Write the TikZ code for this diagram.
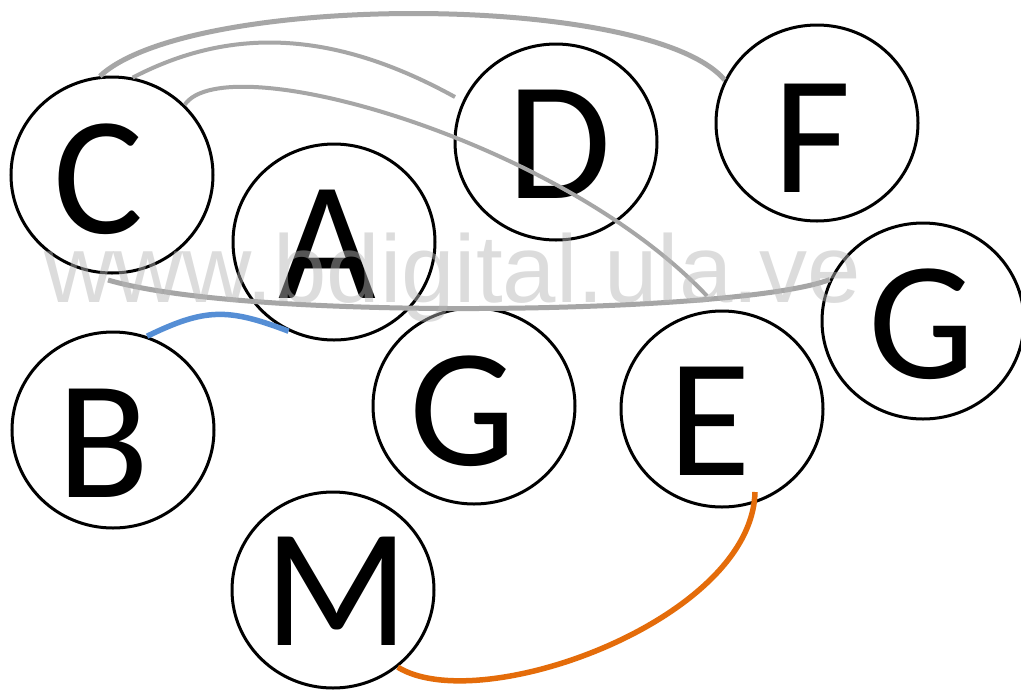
\documentclass[tikz,border=0pt]{standalone}
\usepackage{fontspec}
\setmainfont{Carlito}
\newfontfamily\wmfont{Liberation Sans}
\usetikzlibrary{shapes.geometric}
\definecolor{linegray}{HTML}{A6A6A6}
\definecolor{lineblue}{HTML}{558ED5}
\definecolor{lineorange}{HTML}{E46C0A}
\tikzset{
  circ/.style={ellipse, draw=black, line width=3pt, minimum width=202pt, minimum height=196pt, inner sep=0pt},
  letter/.style={font=\fontsize{169}{169}\selectfont, inner sep=0pt, anchor=base},
  gthick/.style={draw=linegray, line width=5pt},
  gthin/.style={draw=linegray, line width=4pt},
  bline/.style={draw=lineblue, line width=5.5pt},
  oline/.style={draw=lineorange, line width=5.5pt},
  wmark/.style={font=\wmfont\fontsize{96}{96}\selectfont, text=black!29, opacity=0.47, inner sep=0pt, anchor=base west}
}
\begin{document}
\begin{tikzpicture}[x=1pt,y=-1pt]
\fill[white] (0,0) rectangle (1021,689);
\useasboundingbox (0,0) rectangle (1021,689);
% circles
\node[circ] (C) at (112,175) {};
\node[circ] (A) at (334,242) {};
\node[circ] (D) at (556,142) {};
\node[circ] (F) at (817,123) {};
\node[circ] (G2) at (923,321) {};
\node[circ] (B) at (113,430) {};
\node[circ] (G1) at (474,406) {};
\node[circ] (E) at (722,409) {};
\node[circ] (M) at (333,590) {};
% letters
\node[letter] (lC) at (99,233) {C};
\node[letter] (lA) at (327,298) {A};
\node[letter] (lD) at (559,198) {D};
\node[letter] (lF) at (812,192) {F};
\node[letter] (lG2) at (922,378) {G};
\node[letter] (lE) at (710,475) {E};
\node[letter] (lG1) at (463,465) {G};
\node[letter] (lB) at (103,497) {B};
\node[letter] (lM) at (337,645) {M};
% free ends
\coordinate (nearD) at (455,97);
\coordinate (nearE) at (707,296);
\coordinate (belowC) at (108,280);
\coordinate (inE) at (755,492);
% connectors
\draw[gthick] (C.97) .. controls (190,-8) and (650,-8) .. (F.155);
\draw[gthin] (C.78) .. controls (228,28) and (330,28) .. (nearD);
\draw[gthin] (C.44) .. controls (225,45) and (560,140) .. (nearE);
\draw[gthick] (belowC) .. controls (250,322) and (740,314) .. (G2.156);
\draw[bline] (B.70) .. controls (205,308) and (228,308) .. (A.243);
\draw[oline] (inE) .. controls (752,620) and (480,718) .. (M.310);
% watermark
\node[wmark] (wm) at (44,302) {www.bdigital.ula.ve};
\end{tikzpicture}
\end{document}
